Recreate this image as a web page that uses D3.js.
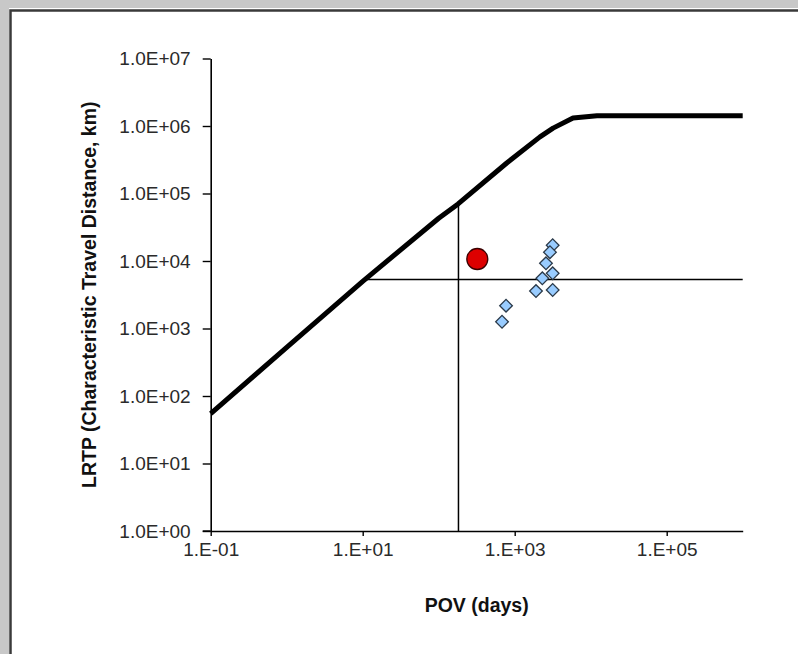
<!DOCTYPE html>
<html>
<head>
<meta charset="utf-8">
<script src="https://cdn.jsdelivr.net/npm/d3@7"></script>
<style>
  body { margin: 0; background: #fff; }
  svg { display: block; font-family: "Liberation Sans", Arial, sans-serif; }
</style>
</head>
<body>
<svg id="vis" width="798" height="654"></svg>
<script>
// model curve (upper bound of LRTP vs POV)
const curvePov  = [0.1, 1, 10, 100, 180, 786, 2150, 3200, 5850, 12100, 1e6];
const curveLrtp = [55, 525, 5000, 4.3e4, 7.0e4, 2.83e5, 6.9e5, 9.3e5, 1.31e6, 1.42e6, 1.42e6];

// chemicals (diamonds)
const chemPov  = [3160, 2910, 2580, 3160, 2310, 1906, 3160, 769, 681];
const chemLrtp = [1.71e4, 1.35e4, 9240, 6570, 5540, 3590, 3720, 2180, 1260];

// reference chemical (red dot)
const refPov  = [322];
const refLrtp = [1.07e4];

// thresholds
const povLimit  = 182;
const lrtpLimit = 5300;

const xTicks = [0.1, 10, 1000, 1e5];
const xTickLabels = ["1.E-01", "1.E+01", "1.E+03", "1.E+05"];
const yTicks = [1, 10, 100, 1e3, 1e4, 1e5, 1e6, 1e7];
const yTickLabels = ["1.0E+00", "1.0E+01", "1.0E+02", "1.0E+03", "1.0E+04", "1.0E+05", "1.0E+06", "1.0E+07"];

let svg = d3.select("#vis");

// chart frame
svg.append("rect").attr("x", 0).attr("y", 0).attr("width", 798).attr("height", 8).attr("fill", "#c8c8c8");
svg.append("rect").attr("x", 0).attr("y", 0).attr("width", 9).attr("height", 654).attr("fill", "#c8c8c8");
svg.append("rect").attr("x", 9).attr("y", 8).attr("width", 789).attr("height", 646).attr("fill", "#fff");
svg.append("path")
    .attr("d", "M10.5,654 V10.5 H798")
    .attr("fill", "none")
    .attr("stroke", "#3a3a3a")
    .attr("stroke-width", 2.5);

let x = d3.scaleLog().domain([0.1, 1e6]).range([210.7, 742.7]);
let y = d3.scaleLog().domain([1, 1e7]).range([531, 58.5]);

// log-log interpolation on the curve
function curveAt(p) {
    let lp = Math.log10(p);
    for (let i = 0; i < curvePov.length - 1; i++) {
        let a = Math.log10(curvePov[i]), b = Math.log10(curvePov[i + 1]);
        if (lp >= a && lp <= b) {
            let t = (lp - a) / (b - a);
            return Math.pow(10, Math.log10(curveLrtp[i]) + t * (Math.log10(curveLrtp[i + 1]) - Math.log10(curveLrtp[i])));
        }
    }
    return curveLrtp[curveLrtp.length - 1];
}
function povAt(l) {
    let ll = Math.log10(l);
    for (let i = 0; i < curveLrtp.length - 1; i++) {
        let a = Math.log10(curveLrtp[i]), b = Math.log10(curveLrtp[i + 1]);
        if (ll >= a && ll <= b && b > a) {
            let t = (ll - a) / (b - a);
            return Math.pow(10, Math.log10(curvePov[i]) + t * (Math.log10(curvePov[i + 1]) - Math.log10(curvePov[i])));
        }
    }
    return curvePov[0];
}

// axes
let xAxis = svg.append("g")
    .attr("transform", `translate(0, ${y(1)})`)
    .call(d3.axisBottom(x).tickValues(xTicks).tickFormat((d, i) => xTickLabels[i]).tickSize(5).tickSizeOuter(0));
let yAxis = svg.append("g")
    .attr("transform", `translate(${x(0.1)}, 0)`)
    .call(d3.axisLeft(y).tickValues(yTicks).tickFormat((d, i) => yTickLabels[i]).tickSize(8).tickSizeOuter(0));

[xAxis, yAxis].forEach(a => {
    a.select(".domain").attr("stroke", "#000").attr("stroke-width", 1.6);
    a.selectAll(".tick line").attr("stroke", "#000").attr("stroke-width", 1.4);
    a.selectAll(".tick text")
        .attr("fill", "#2a2a2a")
        .style("font-family", "'Liberation Sans', Arial, sans-serif")
        .style("font-size", "19px");
});
xAxis.selectAll(".tick text").attr("dy", "0.71em").attr("y", 12);
yAxis.selectAll(".tick text").attr("x", -20);
// extend x axis a bit to the left of the y axis like excel
xAxis.append("line").attr("x1", x(0.1) - 8).attr("x2", x(0.1)).attr("stroke", "#000").attr("stroke-width", 1.4);

// threshold lines
svg.append("line")
    .attr("x1", x(povAt(lrtpLimit))).attr("x2", x(1e6))
    .attr("y1", y(lrtpLimit)).attr("y2", y(lrtpLimit))
    .attr("stroke", "#000").attr("stroke-width", 1.5);
svg.append("line")
    .attr("x1", x(povLimit)).attr("x2", x(povLimit))
    .attr("y1", y(1)).attr("y2", y(curveAt(povLimit)))
    .attr("stroke", "#000").attr("stroke-width", 1.5);

// model curve
let line = d3.line()
    .x((d, i) => x(curvePov[i]))
    .y(d => y(d));
svg.append("path")
    .datum(curveLrtp)
    .attr("d", line)
    .attr("fill", "none")
    .attr("stroke", "#000")
    .attr("stroke-width", 5)
    .attr("stroke-linejoin", "round");

// chemicals
svg.selectAll(".chem")
    .data(chemPov)
    .enter().append("path")
    .attr("class", "chem")
    .attr("d", d3.symbol().type(d3.symbolSquare).size(80))
    .attr("transform", (d, i) => `translate(${x(d)}, ${y(chemLrtp[i])}) rotate(45)`)
    .attr("fill", "#99ccff")
    .attr("stroke", "#2b3a4a")
    .attr("stroke-width", 1.3);

// reference chemical
svg.selectAll(".ref")
    .data(refPov)
    .enter().append("circle")
    .attr("class", "ref")
    .attr("cx", d => x(d))
    .attr("cy", (d, i) => y(refLrtp[i]))
    .attr("r", 10.5)
    .attr("fill", "#dd0000")
    .attr("stroke", "#3a0000")
    .attr("stroke-width", 1.3);

// axis titles
svg.append("text")
    .attr("x", (x(0.1) + x(1e6)) / 2)
    .attr("y", 612)
    .attr("text-anchor", "middle")
    .style("font-size", "19.5px")
    .style("font-weight", "bold")
    .attr("fill", "#111")
    .text("POV (days)");
svg.append("text")
    .attr("transform", `translate(96, ${(y(1) + y(1e7)) / 2}) rotate(-90)`)
    .attr("text-anchor", "middle")
    .style("font-size", "19.5px")
    .style("font-weight", "bold")
    .attr("fill", "#111")
    .text("LRTP (Characteristic Travel Distance, km)");
</script>
</body>
</html>
